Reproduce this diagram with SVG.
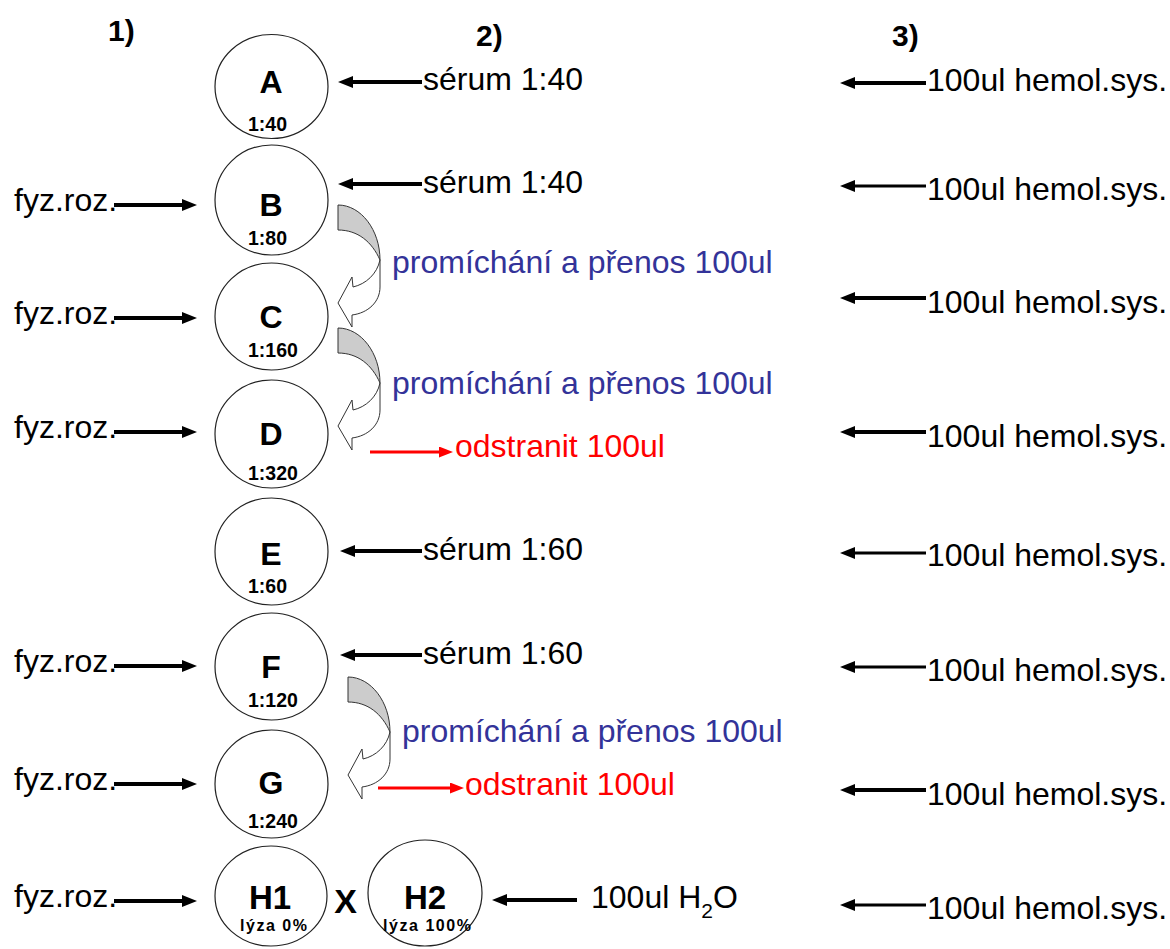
<svg xmlns="http://www.w3.org/2000/svg" width="1170" height="949" viewBox="0 0 1170 949">
  <style>
    text { font-family: "Liberation Sans", Arial, sans-serif; }
    .node ellipse { fill: #fff; stroke: #222; stroke-width: 1.2; }
    .lbl { font-weight: bold; font-size: 32px; text-anchor: middle; fill: #000; }
    .sub { font-weight: bold; font-size: 19.5px; fill: #000; }
    .lyz { font-weight: bold; font-size: 16px; fill: #000; }
    .hdr { font-weight: bold; font-size: 30px; fill: #000; }
    .t { font-size: 32px; fill: #000; }
    .blue { font-size: 32px; fill: #333399; }
    .red { font-size: 32px; fill: #ff0000; }
    .ar { stroke: #000; stroke-width: 4; fill: none; marker-end: url(#head); }
    .ar.thin { stroke-width: 3; }
    .arr { stroke: #ff0000; stroke-width: 3.2; fill: none; marker-end: url(#headRed); }
    .curl-back { fill: #cccccc; stroke: #333; stroke-width: 1; }
    .curl-front { fill: #ffffff; stroke: #333; stroke-width: 1; }
  </style>
  <defs>
    <marker id="head" markerUnits="userSpaceOnUse" markerWidth="15" markerHeight="12" refX="0" refY="6" orient="auto">
      <path d="M0,0 L15,6 L0,12 Z" fill="#000"/>
    </marker>
    <marker id="headRed" markerUnits="userSpaceOnUse" markerWidth="14" markerHeight="11" refX="0" refY="5.5" orient="auto">
      <path d="M0,0 L14,5.5 L0,11 Z" fill="#ff0000"/>
    </marker>
    <!-- curved "mix and transfer" arrow: shaded back band and white head -->
    <g id="curl">
      <path class="curl-back" d="M338,205 C361,205 380,230 380,260 C372,242 358,230 338,230 Z"/>
      <path class="curl-front" d="M380,260 L380,287 C380,302 368,313 352,315 L352,327 L338,303 L352,277 L353,287 C366,284 377,274 380,260 Z"/>
    </g>
  </defs>

  <rect width="1170" height="949" fill="#fff"/>

  <!-- column headers -->
  <text class="hdr" x="108" y="41">1)</text>
  <text class="hdr" x="476" y="46">2)</text>
  <text class="hdr" x="892" y="46">3)</text>

  <!-- wells -->
  <g id="node-A" class="node">
    <ellipse cx="271.5" cy="86.5" rx="56.5" ry="52"/>
    <text class="lbl" x="271" y="93">A</text>
    <text class="sub" x="248" y="131">1:40</text>
  </g>
  <g id="node-B" class="node">
    <ellipse cx="271.5" cy="200" rx="56.5" ry="55"/>
    <text class="lbl" x="271" y="216">B</text>
    <text class="sub" x="248" y="245">1:80</text>
  </g>
  <g id="node-C" class="node">
    <ellipse cx="271.5" cy="316.5" rx="56.5" ry="53.5"/>
    <text class="lbl" x="271" y="328">C</text>
    <text class="sub" x="248" y="357">1:160</text>
  </g>
  <g id="node-D" class="node">
    <ellipse cx="271.5" cy="434" rx="56.5" ry="54"/>
    <text class="lbl" x="271" y="445">D</text>
    <text class="sub" x="248" y="480">1:320</text>
  </g>
  <g id="node-E" class="node">
    <ellipse cx="271.5" cy="551.5" rx="56.5" ry="53.5"/>
    <text class="lbl" x="271" y="565">E</text>
    <text class="sub" x="248" y="593">1:60</text>
  </g>
  <g id="node-F" class="node">
    <ellipse cx="271.5" cy="666.5" rx="56.5" ry="53.5"/>
    <text class="lbl" x="271" y="678">F</text>
    <text class="sub" x="248" y="707">1:120</text>
  </g>
  <g id="node-G" class="node">
    <ellipse cx="271.5" cy="784" rx="56.5" ry="54"/>
    <text class="lbl" x="271" y="794">G</text>
    <text class="sub" x="248" y="828">1:240</text>
  </g>
  <g id="node-H1" class="node">
    <ellipse cx="271" cy="896" rx="56" ry="50"/>
    <text class="lbl" x="270" y="909" style="font-size:33px">H1</text>
    <text class="lyz" x="240" y="931" textLength="67" lengthAdjust="spacing">lýza 0%</text>
  </g>
  <g id="node-H2" class="node">
    <ellipse cx="425" cy="893" rx="57" ry="53"/>
    <text class="lbl" x="425" y="909" style="font-size:33px">H2</text>
    <text class="lyz" x="383" y="931" textLength="88" lengthAdjust="spacing">lýza 100%</text>
  </g>
  <text x="345.5" y="913" style="font-weight:bold;font-size:34px;text-anchor:middle">X</text>

  <!-- connectors -->
  <g id="connectors">
    <!-- saline into wells -->
    <line class="ar" x1="114" y1="205" x2="182" y2="205"/>
    <line class="ar" x1="114" y1="318" x2="182" y2="318"/>
    <line class="ar" x1="114" y1="432" x2="182" y2="432"/>
    <line class="ar" x1="114" y1="666" x2="182" y2="666"/>
    <line class="ar" x1="114" y1="784" x2="182" y2="784"/>
    <line class="ar" x1="114" y1="901" x2="182" y2="901"/>

    <!-- serum into wells -->
    <line class="ar" x1="422" y1="82" x2="353" y2="82"/>
    <line class="ar" x1="422" y1="184" x2="353" y2="184"/>
    <line class="ar" x1="422" y1="551" x2="355" y2="551"/>
    <line class="ar" x1="422" y1="655" x2="355" y2="655"/>

    <!-- water into H2 -->
    <line class="ar" x1="577" y1="900" x2="507" y2="900"/>

    <!-- haemolytic system -->
    <line class="ar" x1="926" y1="83" x2="855" y2="83"/>
    <line class="ar thin" x1="926" y1="186" x2="855" y2="186"/>
    <line class="ar" x1="926" y1="298" x2="855" y2="298"/>
    <line class="ar" x1="926" y1="432" x2="855" y2="432"/>
    <line class="ar thin" x1="926" y1="553" x2="855" y2="553"/>
    <line class="ar thin" x1="926" y1="667" x2="855" y2="667"/>
    <line class="ar" x1="926" y1="790" x2="855" y2="790"/>
    <line class="ar thin" x1="926" y1="905" x2="855" y2="905"/>

    <!-- discard -->
    <line class="arr" x1="370" y1="452" x2="439" y2="452"/>
    <line class="arr" x1="378" y1="788" x2="450" y2="788"/>

    <!-- transfers between wells -->
    <use href="#curl"/>
    <use href="#curl" transform="translate(0,123)"/>
    <use href="#curl" transform="translate(10,472)"/>
  </g>

  <!-- labels -->
  <text class="t" x="14" y="211">fyz.roz.</text>
  <text class="t" x="14" y="324">fyz.roz.</text>
  <text class="t" x="14" y="438">fyz.roz.</text>
  <text class="t" x="14" y="672">fyz.roz.</text>
  <text class="t" x="14" y="790">fyz.roz.</text>
  <text class="t" x="14" y="907">fyz.roz.</text>

  <text class="t" x="423" y="90">sérum 1:40</text>
  <text class="t" x="423" y="193">sérum 1:40</text>
  <text class="t" x="423" y="560">sérum 1:60</text>
  <text class="t" x="423" y="664">sérum 1:60</text>

  <text class="blue" x="392" y="273">promíchání a přenos 100ul</text>
  <text class="blue" x="392" y="394">promíchání a přenos 100ul</text>
  <text class="blue" x="402" y="742">promíchání a přenos 100ul</text>

  <text class="red" x="455" y="457">odstranit 100ul</text>
  <text class="red" x="465" y="795">odstranit 100ul</text>

  <text class="t" x="591" y="908">100ul H<tspan dy="10" style="font-size:21px">2</tspan><tspan dy="-10">O</tspan></text>

  <text class="t" x="927" y="91">100ul hemol.sys.</text>
  <text class="t" x="927" y="200">100ul hemol.sys.</text>
  <text class="t" x="927" y="313">100ul hemol.sys.</text>
  <text class="t" x="927" y="447">100ul hemol.sys.</text>
  <text class="t" x="927" y="566">100ul hemol.sys.</text>
  <text class="t" x="927" y="681">100ul hemol.sys.</text>
  <text class="t" x="927" y="805">100ul hemol.sys.</text>
  <text class="t" x="927" y="919">100ul hemol.sys.</text>
</svg>
